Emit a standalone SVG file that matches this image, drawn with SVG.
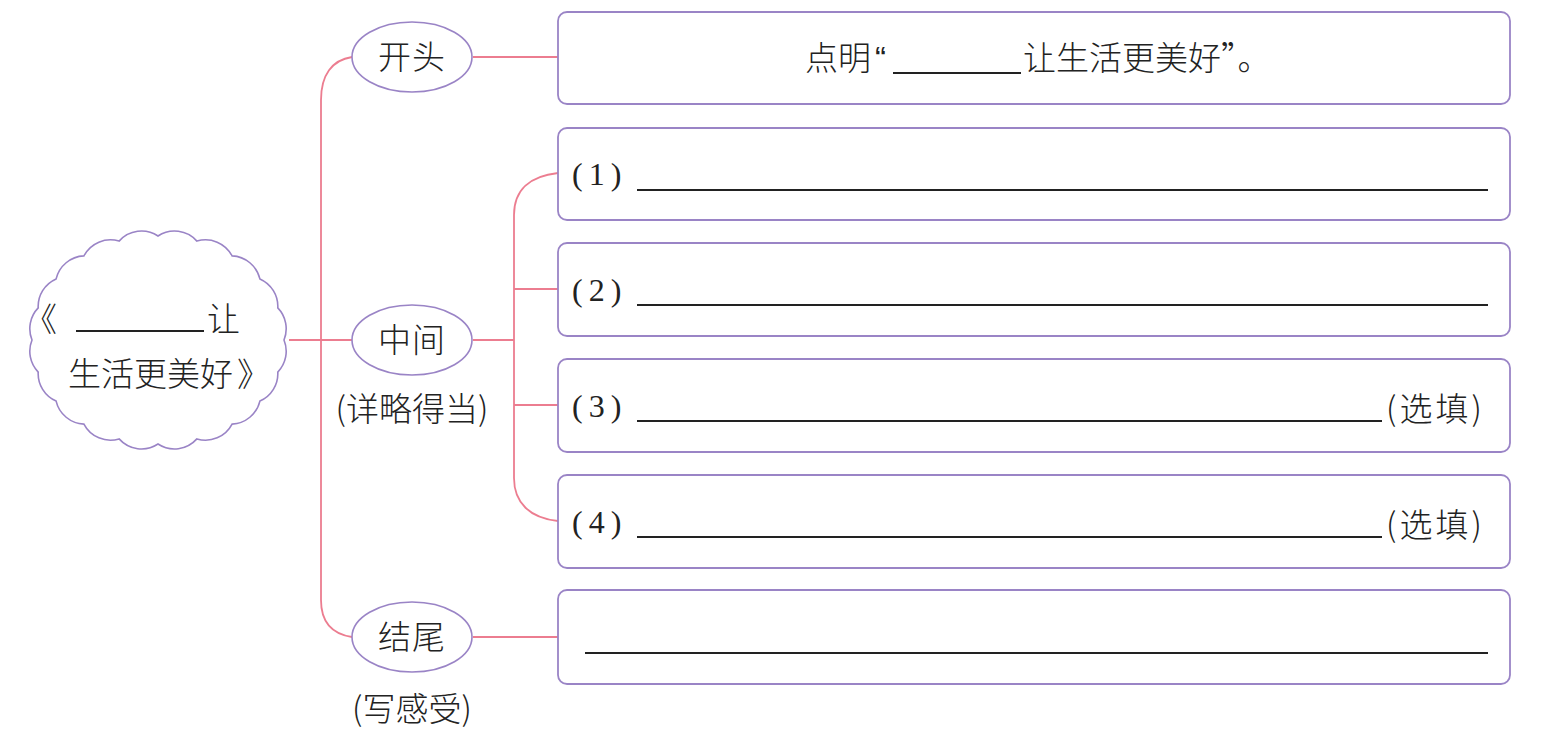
<svg xmlns="http://www.w3.org/2000/svg" width="1554" height="736" viewBox="0 0 1554 736">
<style>
.box{fill:#fff;stroke:#9a84c6;stroke-width:1.8}
.ell{fill:#fff;stroke:#9a84c6;stroke-width:1.6}
.con{fill:none;stroke:#ec7d90;stroke-width:1.8}
.t{font-family:"Noto Sans CJK SC","Noto Sans",sans-serif;fill:#222;font-size:33px;font-weight:300}
.n{font-family:"Liberation Serif",serif;fill:#222;font-size:32px;letter-spacing:6px}
.u{stroke:#222;stroke-width:1.8}
</style>
<rect width="1554" height="736" fill="#fff"/>
<g id="connectors">
<path class="con" d="M289,340 H352"/>
<path class="con" d="M352,57 C332,60 321,75 321,100 V600 C321,622 332,634 352,637"/>
<path class="con" d="M473,57 H558"/>
<path class="con" d="M473,340 H514"/>
<path class="con" d="M558,173 C530,176 514,190 514,215 V478 C514,503 530,518 558,521"/>
<path class="con" d="M514,289 H558"/>
<path class="con" d="M514,405 H558"/>
<path class="con" d="M473,637 H558"/>
</g>
<g id="root">
<path class="ell" d="M284,340 A30,30 0 0 1 277.8,372.1 A30,30 0 0 1 259.9,401.1 A30,30 0 0 1 232.1,424.1 A30,30 0 0 1 196.9,438.9 A30,30 0 0 1 158,444 A30,30 0 0 1 119.1,438.9 A30,30 0 0 1 83.9,424.1 A30,30 0 0 1 56.1,401.1 A30,30 0 0 1 38.2,372.1 A30,30 0 0 1 32,340 A30,30 0 0 1 38.2,307.9 A30,30 0 0 1 56.1,278.9 A30,30 0 0 1 83.9,255.9 A30,30 0 0 1 119.1,241.1 A30,30 0 0 1 158,236 A30,30 0 0 1 196.9,241.1 A30,30 0 0 1 232.1,255.9 A30,30 0 0 1 259.9,278.9 A30,30 0 0 1 277.8,307.9 A30,30 0 0 1 284,340 Z"/>
<text class="t" x="24" y="331" font-size="35">《</text>
<line class="u" x1="76" y1="331" x2="204" y2="331"/>
<text class="t" x="207" y="331" font-size="35">让</text>
<text class="t" x="68" y="386" font-size="35">生活更美好<tspan dx="4">》</tspan></text>
</g>
<g id="n-kaitou">
<ellipse class="ell" cx="412" cy="57" rx="60" ry="35"/>
<text class="t" x="412" y="69" text-anchor="middle" font-size="34" letter-spacing="1">开头</text>
</g>
<g id="n-zhongjian">
<ellipse class="ell" cx="412" cy="340" rx="60" ry="35"/>
<text class="t" x="412" y="352" text-anchor="middle" font-size="34" letter-spacing="1">中间</text>
<text class="t" x="412" y="421" text-anchor="middle" font-size="34">(详略得当)</text>
</g>
<g id="n-jiewei">
<ellipse class="ell" cx="412" cy="637" rx="60" ry="35"/>
<text class="t" x="412" y="649" text-anchor="middle" font-size="34" letter-spacing="1">结尾</text>
<text class="t" x="412" y="721" text-anchor="middle" font-size="34">(写感受)</text>
</g>
<g id="box-1">
<rect class="box" x="558" y="12" width="952" height="92" rx="9"/>
<text class="t" x="805" y="70">点明<tspan dx="4" font-family="Liberation Sans, sans-serif">“</tspan></text>
<line class="u" x1="893" y1="73" x2="1021" y2="73"/>
<text class="t" x="1023" y="70">让生活更美好”。</text>
</g>
<g id="box-2">
<rect class="box" x="558" y="128" width="952" height="92" rx="9"/>
<text class="n" x="572" y="185">(1)</text>
<line class="u" x1="637" y1="190" x2="1488" y2="190"/>
</g>
<g id="box-3">
<rect class="box" x="558" y="243" width="952" height="93" rx="9"/>
<text class="n" x="572" y="301">(2)</text>
<line class="u" x1="637" y1="305" x2="1488" y2="305"/>
</g>
<g id="box-4">
<rect class="box" x="558" y="359" width="952" height="93" rx="9"/>
<text class="n" x="572" y="417">(3)</text>
<line class="u" x1="637" y1="421" x2="1382" y2="421"/>
<text class="t" x="1386" y="421" font-size="34" letter-spacing="3">(选填)</text>
</g>
<g id="box-5">
<rect class="box" x="558" y="475" width="952" height="93" rx="9"/>
<text class="n" x="572" y="533">(4)</text>
<line class="u" x1="637" y1="537" x2="1382" y2="537"/>
<text class="t" x="1386" y="537" font-size="34" letter-spacing="3">(选填)</text>
</g>
<g id="box-6">
<rect class="box" x="558" y="590" width="952" height="94" rx="9"/>
<line class="u" x1="585" y1="653" x2="1488" y2="653"/>
</g>
</svg>
